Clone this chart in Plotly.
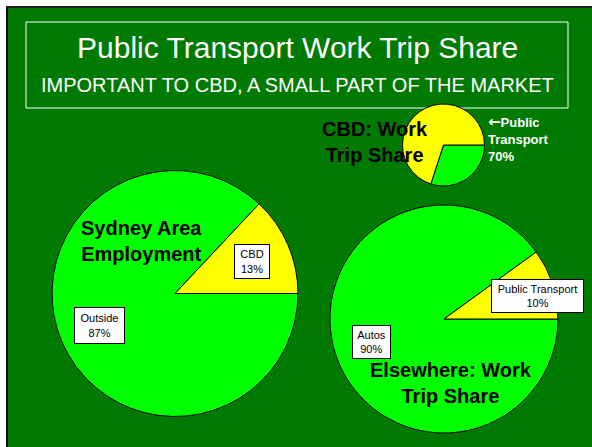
import plotly.graph_objects as go

W, H = 592, 447

# ---- data ----
employment_labels = ["CBD", "Outside"]
employment_values = [13, 87]
cbd_labels = ["Public Transport", "Autos"]
cbd_values = [70, 30]
elsewhere_labels = ["Public Transport", "Autos"]
elsewhere_values = [10, 90]

title_text = "Public Transport Work Trip Share"
subtitle_text = "IMPORTANT TO CBD, A SMALL PART OF THE MARKET"
pie_titles = ["Sydney Area<br>Employment", "CBD: Work<br>Trip Share", "Elsewhere: Work<br>Trip Share"]

YELLOW = "#FFFF00"
LIME = "#00FF00"
DARK = "#007A00"
FONT = "Arial, Liberation Sans, sans-serif"


def px(x):
    return x / W


def py(y):
    return 1 - y / H


def dom(cx, cy, r):
    return dict(x=[px(cx - r), px(cx + r)], y=[py(cy + r), py(cy - r)])


def pie(labels, values, cx, cy, r):
    # first slice (yellow) runs counter-clockwise from 3 o'clock:
    # draw clockwise from 3 o'clock with the order reversed
    return go.Pie(
        labels=labels[::-1], values=values[::-1], sort=False, direction="clockwise",
        rotation=90, textinfo="none", hoverinfo="skip",
        marker=dict(colors=[LIME, YELLOW], line=dict(color="black", width=1)),
        domain=dom(cx, cy, r), showlegend=False,
    )


fig = go.Figure()
fig.add_trace(pie(employment_labels, employment_values, 175, 293.5, 123))
fig.add_trace(pie(cbd_labels, cbd_values, 443.5, 145, 41))
fig.add_trace(pie(elsewhere_labels, elsewhere_values, 444, 319, 114))

shapes = [
    dict(type="rect", xref="paper", yref="paper", x0=px(7), x1=1, y0=0, y1=py(7),
         fillcolor=DARK, line=dict(width=0), layer="below"),
    dict(type="line", xref="paper", yref="paper", x0=px(7), x1=px(7), y0=0, y1=py(6),
         line=dict(color="black", width=2), layer="below"),
    dict(type="line", xref="paper", yref="paper", x0=px(6), x1=1, y0=py(7), y1=py(7),
         line=dict(color="#202020", width=2), layer="below"),
    dict(type="rect", xref="paper", yref="paper", x0=px(26), x1=px(568), y0=py(108), y1=py(22),
         fillcolor="rgba(0,0,0,0)", line=dict(color="white", width=1), layer="below"),
]

annotations = []


def text(t, x, y, size, color="black", bold=False, xanchor="center", align="center"):
    annotations.append(dict(
        text=f"<b>{t}</b>" if bold else t, x=px(x), y=py(y), xref="paper", yref="paper",
        xanchor=xanchor, yanchor="middle", align=align, showarrow=False,
        font=dict(family=FONT, size=size, color=color)))


def box(t, x, y, w, h):
    annotations.append(dict(
        text=t, x=px(x), y=py(y), xref="paper", yref="paper", xanchor="center", yanchor="middle",
        showarrow=False, bgcolor="white", bordercolor="black", borderwidth=1, borderpad=0,
        width=w, height=h, font=dict(family=FONT, size=11, color="black")))


text(title_text, 297, 47, 30, color="white")
text(subtitle_text, 297, 85, 20, color="white")

text(pie_titles[0], 141, 241, 20, bold=True)
text(pie_titles[1], 375, 142, 20, bold=True)
text(pie_titles[2], 451, 383, 20, bold=True)

arrow = '<span style="font-family:DejaVu Sans;font-size:15px">←</span>'
text(f"{arrow}Public<br>Transport<br>{cbd_values[0]}%", 486, 138, 13, color="white", bold=True,
     xanchor="left", align="left")

box(f"{employment_labels[0]}<br>{employment_values[0]}%", 252, 261.5, 34, 33)
box(f"{employment_labels[1]}<br>{employment_values[1]}%", 99.5, 325.5, 49, 35)
box(f"{elsewhere_labels[0]}<br>{elsewhere_values[0]}%", 537.5, 296, 91, 32)
box(f"{elsewhere_labels[1]}<br>{elsewhere_values[1]}%", 371.5, 342, 37, 32)

fig.update_layout(
    width=W, height=H, margin=dict(l=0, r=0, t=0, b=0),
    paper_bgcolor="white", plot_bgcolor="white",
    shapes=shapes, annotations=annotations, showlegend=False,
)

fig.write_html("out.html", config={"displayModeBar": False},
               post_script="document.body.style.margin='0';")
